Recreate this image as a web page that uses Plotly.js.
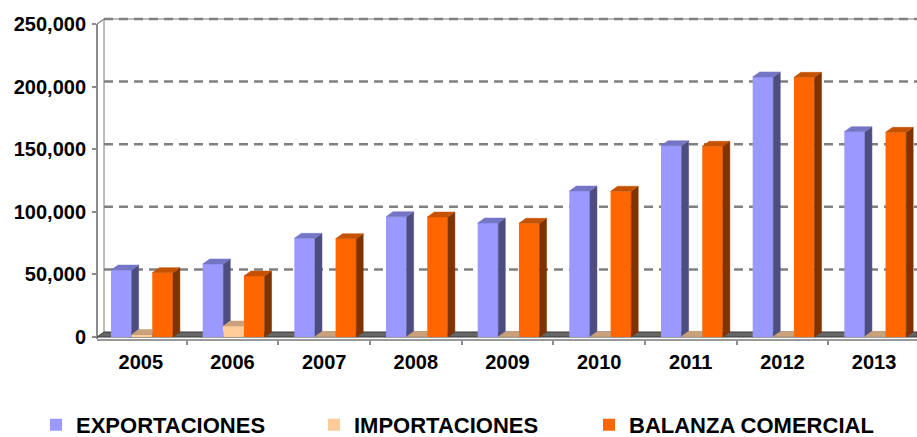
<!DOCTYPE html>
<html>
<head>
<meta charset="utf-8">
<script src="https://cdn.plot.ly/plotly-3.0.1.min.js"></script>
<style>html,body{margin:0;padding:0;background:#fff;}#chart{width:917px;height:437px;}</style>
</head>
<body>
<div id="chart"></div>
<script>
// ---- data ----
const years = ['2005','2006','2007','2008','2009','2010','2011','2012','2013'];
const exportaciones = [53500, 58300, 78800, 96100, 91050, 116600, 152800, 207700, 164000];
const importaciones = [2000, 8800, 300, 300, 250, 200, 500, 300, 500];
const balanza = [51400, 48700, 78500, 95800, 90800, 116400, 152300, 207400, 163500];
const seriesNames = ['EXPORTACIONES', 'IMPORTACIONES', 'BALANZA COMERCIAL'];
const yTicks = [0, 50000, 100000, 150000, 200000, 250000];

// ---- styling / geometry ----
const W = 917, H = 437;
const frontColors = ['#9999FF', '#FFCC99', '#FF6600'];
const sideColors = ['#4D4D80', '#B08A64', '#7F3300'];
const topColors = ['#7575C6', '#C9A17B', '#C45200'];
const pxPerCat = 91.66;
const leftPx = 97, backLeftPx = 104;
const yPerPx = 250000 / (337 - 24);
const xRange = [-0.5 + (leftPx - 95) / pxPerCat, -0.5 + (W - 95) / pxPerCat];
const yRange = [-(339 - 337) * yPerPx, 250000 + (24 - 15) * yPerPx];
const dx = 7 / pxPerCat, dy = 5 * yPerPx;
const barW = 0.225;
const offsets = [-0.325, -0.1, 0.125];
const allVals = [exportaciones, importaciones, balanza];
const legendIds = ['legend', 'legend2', 'legend3'];
const legendLeftPx = [36, 314, 589];
const font = {family: 'Liberation Sans, Arial, sans-serif', color: '#000', weight: 'bold'};

const traces = [];
allVals.forEach((vals, s) => {
  traces.push({
    type: 'bar', x: years, y: vals, name: seriesNames[s], legend: legendIds[s],
    offset: offsets[s], width: barW,
    marker: {color: frontColors[s], line: {width: 0}},
    hoverinfo: 'x+y+name'
  });
});
// 3D side and top faces computed from the same data
allVals.forEach((vals, s) => {
  const sx = [], sy = [], tx = [], ty = [];
  vals.forEach((v, i) => {
    const nv = s < 2 ? allVals[s + 1][i] : 0;
    const xl = i + offsets[s], xr = xl + barW;
    if (s < 2 && nv >= v) {
      tx.push(xl, xl + dx, xr, xr, xl, null);
      ty.push(v, v + dy, v + dy, v, v, null);
    } else {
      tx.push(xl, xl + dx, xr + dx, xr, xl, null);
      ty.push(v, v + dy, v + dy, v, v, null);
    }
    if (v > nv) {
      sx.push(xr, xr + dx, xr + dx, xr, xr, null);
      sy.push(nv, nv + dy, v + dy, v, nv, null);
    }
  });
  traces.push({type: 'scatter', mode: 'lines', x: sx, y: sy, xaxis: 'x2', yaxis: 'y',
    fill: 'toself', fillcolor: sideColors[s], line: {width: 0.5, color: sideColors[s]},
    showlegend: false, hoverinfo: 'skip'});
  traces.push({type: 'scatter', mode: 'lines', x: tx, y: ty, xaxis: 'x2', yaxis: 'y',
    fill: 'toself', fillcolor: topColors[s], line: {width: 0.5, color: topColors[s]},
    showlegend: false, hoverinfo: 'skip'});
});

const px = p => p / W;
const shapes = [];
// back wall top edge and left edge
shapes.push({type: 'line', xref: 'paper', yref: 'y', x0: px(backLeftPx), x1: 1, y0: 250000 + dy, y1: 250000 + dy,
  line: {color: '#A6A6A6', width: 1.5}, layer: 'below'});
shapes.push({type: 'line', xref: 'paper', yref: 'y', x0: px(backLeftPx), x1: px(backLeftPx), y0: dy, y1: 250000 + dy,
  line: {color: '#A6A6A6', width: 1.5}, layer: 'below'});
// back-wall gridlines
yTicks.forEach(v => {
  if (v === 0) return;
  shapes.push({type: 'line', xref: 'paper', yref: 'y', x0: px(backLeftPx), x1: 1, y0: v + dy, y1: v + dy,
    line: {color: '#808080', width: 2.5, dash: '9px,6px'}, layer: 'below'});
});
// front axis line + diagonal
shapes.push({type: 'line', xref: 'paper', yref: 'y', x0: px(leftPx), x1: px(leftPx), y0: yRange[0], y1: 250000,
  line: {color: '#8C8C8C', width: 2}, layer: 'below'});
shapes.push({type: 'line', xref: 'paper', yref: 'y', x0: px(leftPx), x1: px(backLeftPx), y0: 250000, y1: 250000 + dy,
  line: {color: '#8C8C8C', width: 1.5}, layer: 'below'});
// floor
shapes.push({type: 'path', xref: 'paper', yref: 'y',
  path: 'M ' + px(leftPx) + ' 0 L 1 0 L 1 ' + dy + ' L ' + px(backLeftPx) + ' ' + dy + ' Z',
  fillcolor: '#666666', line: {color: '#3A3A3A', width: 1}, layer: 'below'});

const layout = {
  width: W, height: H,
  margin: {l: 0, r: 0, t: 15, b: H - 339, autoexpand: false},
  paper_bgcolor: '#fff', plot_bgcolor: 'rgba(0,0,0,0)',
  barmode: 'overlay',
  showlegend: true,
  xaxis: {type: 'category', domain: [px(leftPx), 1], range: xRange,
    showline: true, linecolor: '#999', linewidth: 2,
    ticks: 'outside', tickson: 'boundaries', ticklen: 4, tickwidth: 2, tickcolor: '#8C8C8C',
    ticklabelstandoff: 4,
    showgrid: false, zeroline: false, tickfont: Object.assign({size: 20}, font), fixedrange: true},
  xaxis2: {overlaying: 'x', type: 'linear', range: xRange, visible: false, showgrid: false, zeroline: false},
  yaxis: {range: yRange, tickvals: yTicks, tickformat: ',d', showgrid: false, zeroline: false,
    showline: false, ticks: 'outside', ticklen: 4, tickwidth: 2, tickcolor: '#8C8C8C',
    ticklabelstandoff: 2, tickfont: Object.assign({size: 20}, font)},
  shapes: shapes
};
legendIds.forEach((id, s) => {
  layout[id] = {orientation: 'h', x: px(legendLeftPx[s]), xanchor: 'left', y: -0.265, yanchor: 'middle',
    font: Object.assign({size: 22}, font), bgcolor: 'rgba(0,0,0,0)'};
});

Plotly.newPlot('chart', traces, layout, {displayModeBar: false, staticPlot: true});
</script>
</body>
</html>
